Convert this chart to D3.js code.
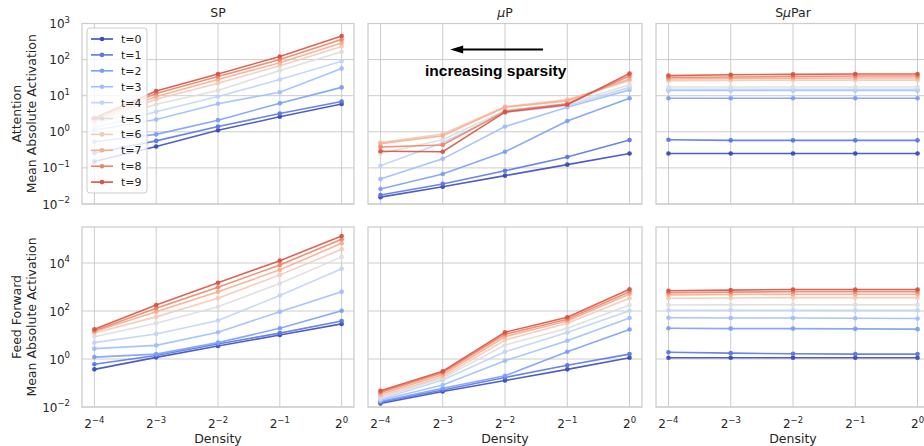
<!DOCTYPE html>
<html><head><meta charset="utf-8">
<script src="https://cdn.jsdelivr.net/npm/d3@7"></script>
<style>body{margin:0;background:#fff}svg{display:block}text{font-family:"DejaVu Sans",sans-serif;fill:#262626}</style>
</head><body><svg id="c" width="924" height="446"></svg>
<script>
// ---------- data ----------
const densities = [1/16, 1/8, 1/4, 1/2, 1];
const densityExps = [-4, -3, -2, -1, 0];
const seriesLabels = ["t=0","t=1","t=2","t=3","t=4","t=5","t=6","t=7","t=8","t=9"];
const seriesColors = ["#3b4cc0","#5978e3","#7b9ef9","#9fbeff","#c0d4f5","#dddddd","#f2cab7","#f7ad8f","#ee8568","#d75344"];
const panelTitles = [["SP","",""], ["","μ","P"], ["S","μ","Par"]];
const rowLabels = [["Attention","Mean Absolute Activation"],["Feed Forward","Mean Absolute Activation"]];
const attnTickExps = [-2,-1,0,1,2,3];
const ffTickExps = [-2,0,2,4];
const attnDomain = [1e-2, 1e3];
const ffDomain = [1e-2, Math.pow(10,5.5)];

const spAttn = [
 [0.15, 0.39, 1.1, 2.6, 5.9],
 [0.26, 0.56, 1.4, 3.2, 6.9],
 [0.53, 0.85, 2.1, 6.2, 17],
 [1.1, 2.2, 6.0, 12.5, 57],
 [1.3, 3.6, 9.5, 28, 90],
 [1.6, 5.8, 14, 50, 165],
 [1.9, 8, 22, 68, 230],
 [2.1, 9.5, 28, 82, 290],
 [2.3, 11.5, 34, 100, 360],
 [2.4, 13.5, 40, 122, 450]
];
const muAttn = [
 [0.0155, 0.030, 0.061, 0.123, 0.25],
 [0.0178, 0.036, 0.083, 0.20, 0.59],
 [0.026, 0.068, 0.28, 2.0, 8.5],
 [0.049, 0.178, 1.4, 4.8, 14.5],
 [0.114, 0.50, 3.4, 5.3, 17],
 [0.25, 0.60, 3.9, 6.0, 20],
 [0.50, 0.87, 5.0, 7.8, 26],
 [0.47, 0.78, 4.8, 7.2, 29],
 [0.38, 0.43, 3.7, 6.0, 35],
 [0.29, 0.28, 3.5, 5.6, 41]
];
const smuAttn = [
 [0.25, 0.25, 0.25, 0.25, 0.25],
 [0.60, 0.58, 0.58, 0.58, 0.58],
 [8.5, 8.5, 8.5, 8.5, 8.5],
 [14, 14, 14, 14, 14],
 [15, 15, 15, 15, 15],
 [17.5, 17.5, 17.5, 17.5, 17.5],
 [26, 26.5, 27, 27, 27],
 [29, 30, 30.5, 31, 31],
 [32, 33, 34, 35, 35],
 [36, 38, 39, 40, 40]
];
const spFF = [
 [0.37, 1.17, 3.5, 10, 29],
 [0.6, 1.4, 4.2, 12, 38],
 [1.2, 1.6, 4.8, 19, 102],
 [2.7, 3.7, 13, 94, 630],
 [4.8, 11, 40, 440, 5800],
 [8.5, 31, 150, 1400, 18000],
 [12, 57, 340, 3200, 37000],
 [14, 94, 630, 5200, 66000],
 [15, 130, 980, 8300, 98000],
 [17.4, 178, 1500, 12500, 133000]
];
const muFF = [
 [0.014, 0.044, 0.127, 0.37, 1.12],
 [0.016, 0.051, 0.17, 0.55, 1.6],
 [0.017, 0.060, 0.20, 2.0, 17],
 [0.019, 0.083, 0.85, 5.8, 51],
 [0.021, 0.133, 2.0, 12.6, 102],
 [0.025, 0.16, 3.8, 19, 178],
 [0.029, 0.18, 6.2, 31, 340],
 [0.034, 0.22, 8.5, 38, 510],
 [0.040, 0.27, 10.7, 45, 630],
 [0.047, 0.31, 13, 55, 800]
];
const smuFF = [
 [1.12, 1.12, 1.12, 1.12, 1.12],
 [1.9, 1.75, 1.65, 1.6, 1.6],
 [19, 18.5, 18.5, 18, 17.5],
 [52, 51, 51, 50, 49],
 [107, 107, 107, 106, 106],
 [178, 180, 182, 180, 180],
 [340, 350, 360, 360, 360],
 [470, 490, 500, 500, 500],
 [580, 610, 640, 640, 640],
 [700, 740, 790, 790, 790]
];
const annotationText = "increasing sparsity";
const arrowFrom = [Math.pow(2,-1.39), 190];
const arrowTo = [Math.pow(2,-2.88), 190];
const annotationPos = [Math.pow(2,-2.15), 50];

// ---------- layout ----------
const cols = [{x0:82,x1:354},{x0:368,x1:642},{x0:656,x1:930}];
const rows = [
  {y0:23.5, y1:204, domain:attnDomain, ticks:attnTickExps, data:[spAttn, muAttn, smuAttn]},
  {y0:227, y1:407, domain:ffDomain, ticks:ffTickExps, data:[spFF, muFF, smuFF]}
];
const grid = "#cccccc";
const svg = d3.select("#c");

function supText(sel, base, exp, bs, es){
  sel.append("tspan").attr("font-size", bs).text(base);
  sel.append("tspan").attr("font-size", es).attr("dy", -bs*0.45).text(exp);
}
const fmtExp = e => (e<0 ? "\u2212"+(-e) : ""+e);

rows.forEach((row, ri) => {
  const y = d3.scaleLog().domain(row.domain).range([row.y1, row.y0]);
  cols.forEach((col, ci) => {
    const x = d3.scaleLog().base(2).domain([Math.pow(2,-4.2), Math.pow(2,0.2)]).range([col.x0, col.x1]);
    const g = svg.append("g");
    // grid
    g.selectAll(".vg").data(densities).enter().append("line")
      .attr("x1", d=>x(d)).attr("x2", d=>x(d)).attr("y1", row.y0).attr("y2", row.y1)
      .attr("stroke", grid).attr("stroke-width", 1);
    g.selectAll(".hg").data(row.ticks).enter().append("line")
      .attr("x1", col.x0).attr("x2", col.x1).attr("y1", e=>y(Math.pow(10,e))).attr("y2", e=>y(Math.pow(10,e)))
      .attr("stroke", grid).attr("stroke-width", 1);
    // lines
    const line = d3.line().x((d,i)=>x(densities[i])).y(d=>y(d));
    const series = row.data[ci];
    series.forEach((vals, si) => {
      g.append("path").attr("d", line(vals)).attr("fill","none")
        .attr("stroke", seriesColors[si]).attr("stroke-width", 1.6).attr("stroke-opacity", 0.9);
      g.selectAll(null).data(vals).enter().append("circle")
        .attr("cx", (d,i)=>x(densities[i])).attr("cy", d=>y(d)).attr("r", 2.3)
        .attr("fill", seriesColors[si]).attr("fill-opacity", 0.95);
    });
    // frame
    g.append("rect").attr("x", col.x0).attr("y", row.y0).attr("width", col.x1-col.x0).attr("height", row.y1-row.y0)
      .attr("fill","none").attr("stroke", grid).attr("stroke-width", 1.25);
    // y tick labels
    if (ci === 0) {
      row.ticks.forEach(e => {
        const t = svg.append("text").attr("x", col.x0-12).attr("y", y(Math.pow(10,e))+4.5).attr("text-anchor","end");
        supText(t, "10", fmtExp(e), 12, 8.5);
      });
      const cy = (row.y0+row.y1)/2;
      rowLabels[ri].forEach((lab, li) => {
        svg.append("text").attr("transform", `translate(${21+li*15},${cy}) rotate(-90)`)
          .attr("text-anchor","middle").attr("font-size", 12.5).text(lab);
      });
    }
    // x tick labels
    if (ri === 1) {
      densities.forEach((d, i) => {
        const t = svg.append("text").attr("x", x(d)).attr("y", row.y1+21).attr("text-anchor","middle");
        supText(t, "2", fmtExp(densityExps[i]), 12, 8.5);
      });
      svg.append("text").attr("x", (col.x0+Math.min(col.x1,930))/2).attr("y", 443).attr("text-anchor","middle")
        .attr("font-size", 12.5).text("Density");
    }
    // titles
    if (ri === 0) {
      const t = svg.append("text").attr("x", (col.x0+col.x1)/2).attr("y", 17).attr("text-anchor","middle").attr("font-size", 12.5);
      const p = panelTitles[ci];
      t.append("tspan").text(p[0]);
      t.append("tspan").attr("font-style","italic").text(p[1]);
      t.append("tspan").text(p[2]);
    }
    // annotation
    if (ri === 0 && ci === 1) {
      g.append("line").attr("x1", x(arrowFrom[0])).attr("y1", y(arrowFrom[1]))
        .attr("x2", x(arrowTo[0])+10).attr("y2", y(arrowTo[1])).attr("stroke","#000").attr("stroke-width", 2);
      const tx = x(arrowTo[0]), ty = y(arrowTo[1]);
      g.append("path").attr("d", `M${tx},${ty} L${tx+13},${ty-4} L${tx+13},${ty+4} Z`).attr("fill","#000");
      g.append("text").attr("x", x(annotationPos[0])).attr("y", y(annotationPos[1])).attr("dy","0.35em")
        .attr("text-anchor","middle").style("font-family","'Liberation Sans', Arial, sans-serif")
        .attr("font-weight","bold").attr("font-size", 15.5).style("fill","#000").text(annotationText);
    }
    // legend
    if (ri === 0 && ci === 0) {
      const lg = svg.append("g");
      lg.append("rect").attr("x", 87).attr("y", 28).attr("width", 60).attr("height", 165).attr("rx", 3)
        .attr("fill","#fff").attr("fill-opacity", 0.8).attr("stroke", grid).attr("stroke-width", 1);
      seriesLabels.forEach((lab, si) => {
        const ly = 39 + si*15.9;
        lg.append("line").attr("x1", 91).attr("x2", 113).attr("y1", ly).attr("y2", ly)
          .attr("stroke", seriesColors[si]).attr("stroke-width", 1.6);
        lg.append("circle").attr("cx", 102).attr("cy", ly).attr("r", 2.3).attr("fill", seriesColors[si]);
        lg.append("text").attr("x", 121).attr("y", ly+4).attr("font-size", 11).text(lab);
      });
    }
  });
});
</script></body></html>
